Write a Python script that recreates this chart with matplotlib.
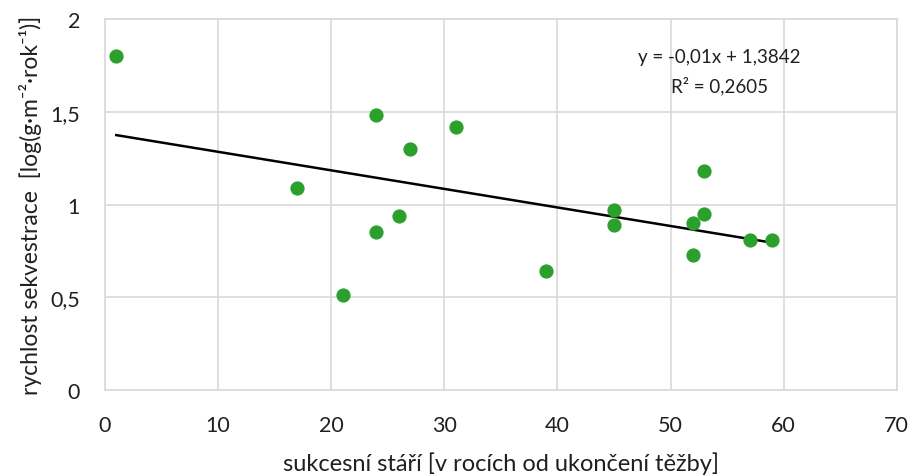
import numpy as np
import matplotlib
matplotlib.use("Agg")
from matplotlib import pyplot as plt

# data
vek = [1, 17, 21, 24, 24, 26, 27, 31, 39, 45, 45, 52, 52, 53, 53, 57, 59]
sekvestrace = [1.80, 1.09, 0.51, 1.48, 0.85, 0.94, 1.30, 1.42, 0.64,
               0.97, 0.89, 0.73, 0.90, 1.18, 0.95, 0.81, 0.81]
# trendline coefficients as printed in the chart
slope = -0.01
intercept = 1.3842
r2 = 0.2605

x_ticks = [0, 10, 20, 30, 40, 50, 60, 70]
y_ticks = [0, 0.5, 1, 1.5, 2]
y_labels = ["0", "0,5", "1", "1,5", "2"]

plt.rcParams['font.family'] = ['Lato', 'DejaVu Sans']

fig = plt.figure(figsize=(9.16, 4.77), dpi=100)
ax = fig.add_axes([0.1146, 0.1803, 0.979 - 0.1146, 0.958 - 0.1803])

ax.scatter(vek, sekvestrace, s=105, color='#2ca02c', zorder=3, linewidths=0)

xl = np.array([min(vek), max(vek)])
ax.plot(xl, slope * xl + intercept, color='black', lw=1.8, zorder=2)

ax.set_xlim(0, 70)
ax.set_ylim(0, 2)
ax.set_xticks(x_ticks)
ax.set_yticks(y_ticks)
ax.set_yticklabels(y_labels)
ax.tick_params(length=0, labelsize=15.5, colors='#202020')
ax.tick_params(axis='x', pad=18)
ax.tick_params(axis='y', pad=18)
ax.grid(True, color='#d9d9d9', lw=1.2)
ax.set_axisbelow(True)
for s in ax.spines.values():
    s.set_color('#d9d9d9')
    s.set_linewidth(1.2)

ax.set_xlabel("sukcesní stáří [v rocích od ukončení těžby]", fontsize=17,
              labelpad=12, color='#202020')
ax.set_ylabel("rychlost sekvestrace  [log(g·m⁻²·rok⁻¹)]", fontsize=16.5,
              labelpad=6, color='#202020')

ax.text(54.3, 1.72, "y = -0,01x + 1,3842\nR² = 0,2605", ha='center', va='center',
        fontsize=13.5, linespacing=1.7, color='#202020')

fig.savefig("out.png", dpi=100)
